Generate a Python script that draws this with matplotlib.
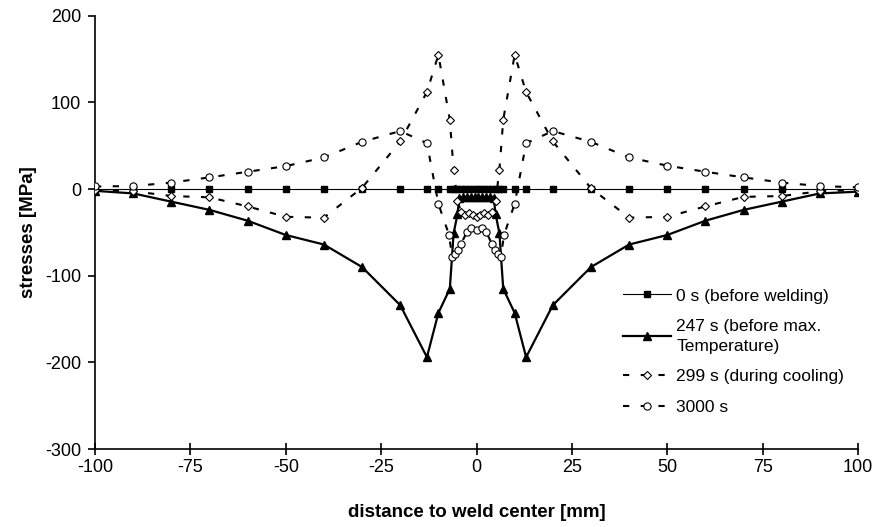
import matplotlib
matplotlib.use("Agg")
import matplotlib.pyplot as plt

plt.rcParams['font.family'] = ['Liberation Sans', 'DejaVu Sans']
plt.rcParams['axes.unicode_minus'] = False

# 0 s (before welding)
x_0s = [-100, -90, -80, -70, -60, -50, -40, -30, -20, -13, -10, -7, -6, -5, -4, -3, -2, -1, 0,
        1, 2, 3, 4, 5, 6, 7, 10, 13, 20, 30, 40, 50, 60, 70, 80, 90, 100]
y_0s = [0] * len(x_0s)

# 247 s (before max. temperature)
x_247 = [-100, -90, -80, -70, -60, -50, -40, -30, -20, -13, -10, -7, -6, -5, -4.5, -3.5, -2.5,
         -1.5, -0.5, 0.5, 1.5, 2.5, 3.5, 4.5, 5, 6, 7, 10, 13, 20, 30, 40, 50, 60, 70, 80, 90, 100]
y_247 = [-2, -5, -14.5, -24, -36.5, -53, -64, -90, -134, -194, -143, -115, -51, -29, -10, -9, -9,
         -9, -9, -9, -9, -9, -9, -10, -29, -51, -115, -143, -194, -134, -90, -64, -53, -36.5, -24,
         -14.5, -5, -3]

# 299 s (during cooling)
x_299 = [-100, -90, -80, -70, -60, -50, -40, -30, -20, -13, -10, -7, -6, -5, -4, -3, -2, -1, 0,
         1, 2, 3, 4, 5, 6, 7, 10, 13, 20, 30, 40, 50, 60, 70, 80, 90, 100]
y_299 = [-1, -2.5, -8, -9.5, -20, -32, -33, 1.5, 55, 112, 155, 80, 22, -13.5, -27, -30, -28, -30,
         -32, -30, -28, -30, -27, -13.5, 22, 80, 155, 112, 55, 1, -33, -32, -20, -9, -8, -2.5, -1]

# 3000 s
x_3000 = [-100, -90, -80, -70, -60, -50, -40, -30, -20, -13, -10, -7.2, -6.4, -5.6, -4.8, -4,
          -2.6, -1.4, 0, 1.4, 2.6, 4, 4.8, 5.6, 6.4, 7.2, 10, 13, 20, 30, 40, 50, 60, 70, 80, 90, 100]
y_3000 = [3, 3.5, 7.5, 13.5, 20, 26.5, 36.5, 54.5, 67, 53, -17, -53, -78, -75, -70, -63, -50, -45,
          -47, -45, -50, -63, -70, -75, -78, -53, -17, 53, 67, 54.5, 36.5, 27, 20, 13.5, 7.5, 3.5, 2]

labels = ['0 s (before welding)', '247 s (before max.\nTemperature)',
          '299 s (during cooling)', '3000 s']
x_ticks = [-100, -75, -50, -25, 0, 25, 50, 75, 100]
y_ticks = [-300, -200, -100, 0, 100, 200]

fig = plt.figure(figsize=(8.75, 5.27), dpi=100)
ax = fig.add_axes([0.1086, 0.148, 0.872, 0.822])

ax.plot(x_0s, y_0s, color='black', lw=0.8, marker='s', ms=4.2, mfc='black', mec='black',
        label=labels[0], zorder=3)
ax.plot(x_247, y_247, color='black', lw=1.6, marker='^', ms=5.2, mfc='black', mec='black',
        label=labels[1], zorder=4)
ax.plot(x_299, y_299, color='black', lw=1.5, dashes=(3, 5.5), marker='D', ms=4.2, mfc='white',
        mec='black', mew=0.8, label=labels[2], zorder=5)
ax.plot(x_3000, y_3000, color='black', lw=1.5, dashes=(3, 5.5), marker='o', ms=5.2, mfc='white',
        mec='black', mew=0.8, label=labels[3], zorder=6)

ax.set_xlim(-100, 100)
ax.set_ylim(-300, 200)
ax.set_xticks(x_ticks)
ax.set_yticks(y_ticks)
ax.tick_params(axis='x', direction='inout', length=8, width=1.2, labelsize=13, pad=3)
ax.tick_params(axis='y', direction='out', length=5, width=1.2, labelsize=13, pad=5)
for side in ['top', 'right']:
    ax.spines[side].set_visible(False)
for side in ['left', 'bottom']:
    ax.spines[side].set_linewidth(1.2)

ax.set_xlabel('distance to weld center [mm]', fontsize=13.5, fontweight='bold', labelpad=20)
ax.set_ylabel('stresses [MPa]', fontsize=13.5, fontweight='bold', labelpad=6)

leg = ax.legend(loc='upper left', bbox_to_anchor=(0.6925, 0.3707), frameon=False, fontsize=12.5,
                borderpad=0, borderaxespad=0, handlelength=2.75, handletextpad=0.3,
                labelspacing=0.87, numpoints=1)
leg.get_texts()[1].set_linespacing(1.45)

fig.savefig('out.png', dpi=100)
